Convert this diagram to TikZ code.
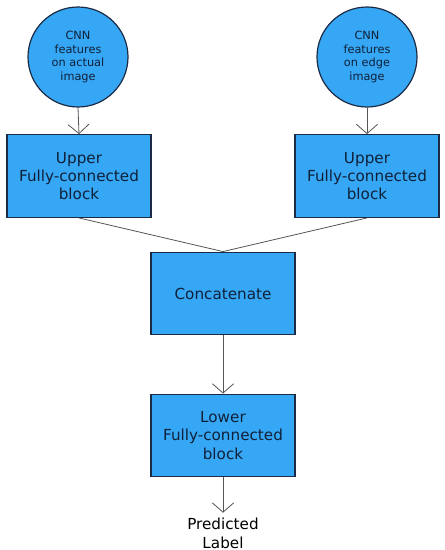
\documentclass[tikz,border=0pt]{standalone}
\usepackage{fontspec}
\setmainfont{DejaVu Sans}
\usetikzlibrary{arrows.meta}
\definecolor{boxfill}{HTML}{36A7F5}
\definecolor{boxline}{HTML}{1B2B45}
\definecolor{txt}{HTML}{102038}
\definecolor{conn}{HTML}{555555}
\tikzset{
  blk/.style={draw=boxline, line width=0.9pt, fill=boxfill, minimum width=108pt, minimum height=62pt, inner sep=0pt, align=center, text=txt, font=\fontsize{11.4}{13.6}\selectfont},
  feat/.style={draw=boxline, line width=0.9pt, fill=boxfill, circle, minimum size=75pt, inner sep=0pt, align=center, text=txt, font=\fontsize{8.5}{10.1}\selectfont},
  conn/.style={draw=conn, line width=0.6pt},
  arr/.style={conn, -{Straight Barb[length=7pt, width=16pt, line width=0.6pt]}}
}
\begin{document}
\begin{tikzpicture}[x=0.75pt, y=-0.75pt]
\useasboundingbox (0,0) rectangle (445,550);
\node[feat] (c1) at (78,57) {CNN\\features\\on actual\\image};
\node[feat] (c2) at (367,57) {CNN\\features\\on edge\\image};
\node[blk] (u1) at (79,176) {Upper\\Fully-connected\\block};
\node[blk] (u2) at (367,176) {Upper\\Fully-connected\\block};
\node[blk] (cat) at (223,293.5) {Concatenate};
\node[blk] (low) at (223,435.5) {Lower\\Fully-connected\\block};
\node[align=center, text=black, font=\fontsize{11.4}{14.5}\selectfont] (out) at (223,533) {Predicted\\Label};
\draw[arr] (c1.south) -- (u1.north);
\draw[arr] (c2.south) -- (u2.north);
\draw[conn] (u1.south) -- (cat.north);
\draw[conn] (u2.south) -- (cat.north);
\draw[arr] (cat.south) -- (low.north);
\draw[arr] (low.south) -- (out.north);
\end{tikzpicture}
\end{document}
